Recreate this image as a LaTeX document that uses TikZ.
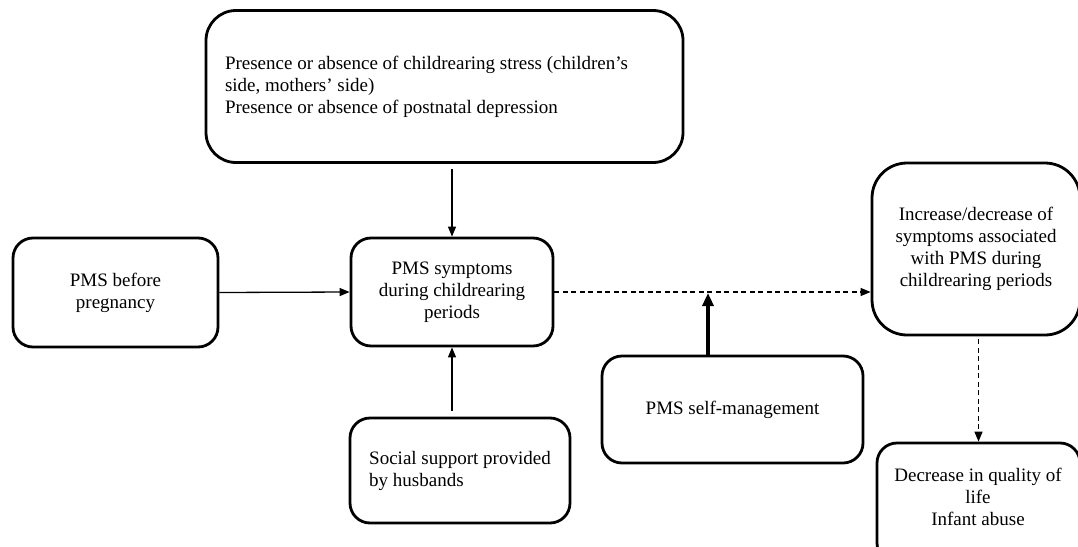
\documentclass[tikz,border=0pt]{standalone}
\usepackage{fontspec}
\setmainfont{Liberation Serif}
\usetikzlibrary{arrows.meta}
\begin{document}
\begin{tikzpicture}[x=1pt,y=-1pt,
  box/.style={draw, line width=2.8pt, rounded corners=20pt, inner sep=0pt,
    font=\fontsize{19}{22}\selectfont},
  conn/.style={line width=1.3pt, -{Triangle[length=10pt,width=8pt]}},
  dconn/.style={conn, dash pattern=on 5pt off 3.5pt},
  thick conn/.style={line width=3.6pt, -{Triangle[length=13pt,width=11pt]}}]
\useasboundingbox (0,0) rectangle (1078,546);
\node[box, rounded corners=30pt, minimum width=477pt, minimum height=152pt, align=flush left, text width=439pt]
  (stress) at (444.5,86.5) {Presence or absence of childrearing stress (children’s\\side, mothers’ side)\\Presence or absence of postnatal depression};
\node[box, minimum width=205pt, minimum height=109pt, align=center]
  (before) at (115.5,292.5) {PMS before\\pregnancy};
\node[box, minimum width=202pt, minimum height=108pt, align=center]
  (sympt) at (452,292) {PMS symptoms\\during childrearing\\periods};
\node[box, minimum width=220pt, minimum height=105pt, align=left]
  (social) at (460,470.5) {Social support provided\\by husbands};
\node[box, minimum width=261pt, minimum height=107pt, align=center]
  (self) at (732.5,409.5) {PMS self-management};
\node[box, rounded corners=35pt, minimum width=208pt, minimum height=172pt, align=center]
  (incr) at (976,249) {Increase/decrease of\\symptoms associated\\with PMS during\\childrearing periods};
\node[box, minimum width=203pt, minimum height=120pt]
  (qol) at (978.5,503) {};
\node[font=\fontsize{19}{22}\selectfont, align=center, inner sep=0pt]
  (qoltext) at (978,497) {Decrease in quality of\\life\\Infant abuse};
\coordinate (join) at (708,292);
\draw[conn, shorten <=5pt] (stress.south -| sympt.north) -- (sympt.north);
\draw[conn] (before.east) -- (sympt.west);
\draw[conn, shorten <=6pt] (sympt.south |- social.north) -- (sympt.south);
\draw[dconn] (sympt.east) -- (sympt.east -| incr.west);
\draw[thick conn, shorten >=1pt] (self.north -| join) -- (join);
\draw[dconn, shorten <=3pt] (incr.south -| qol.north) -- (qol.north);
\end{tikzpicture}
\end{document}
